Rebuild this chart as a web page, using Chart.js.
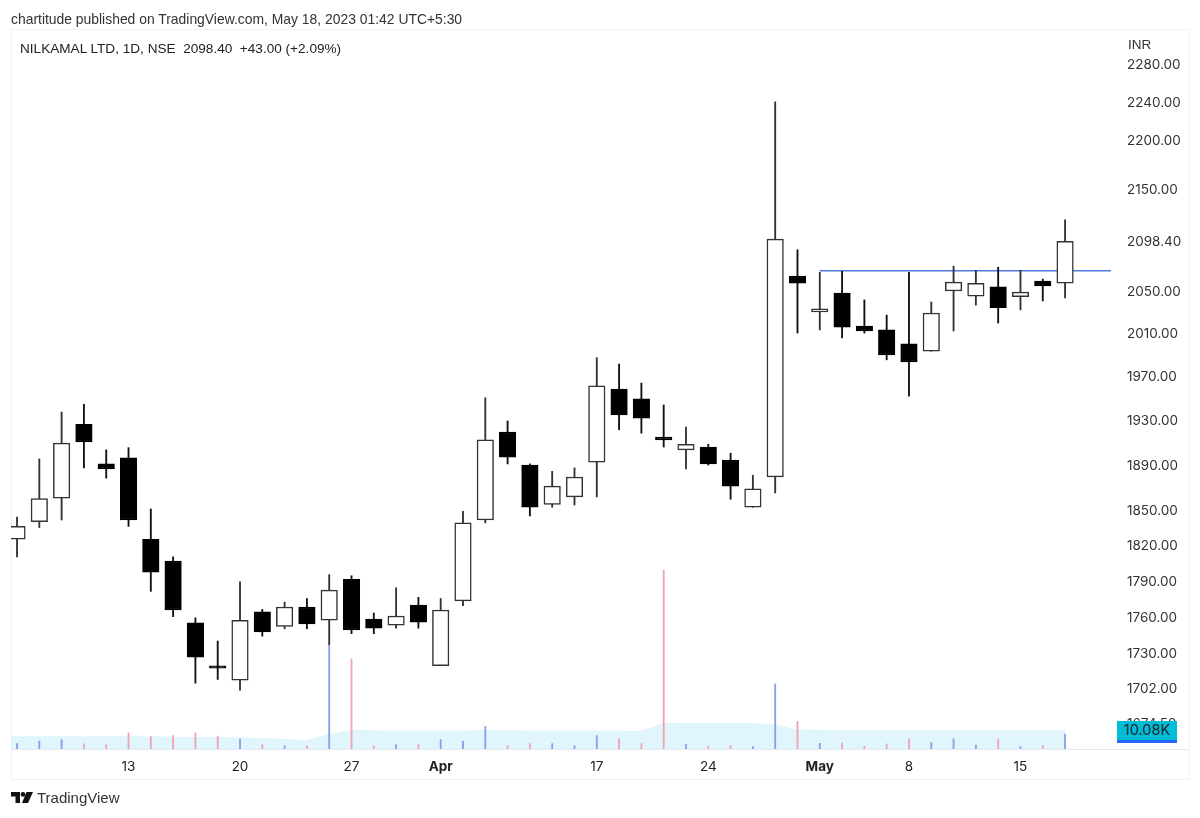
<!DOCTYPE html>
<html>
<head>
<meta charset="utf-8">
<title>NILKAMAL LTD</title>
<script src="https://cdn.jsdelivr.net/npm/chart.js@4"></script>
<style>
    html, body { margin: 0; padding: 0; background: #fff; }
    #wrap { position: relative; width: 1200px; height: 818px; overflow: hidden; font-family: "Liberation Sans", sans-serif; color: #2a2e39; }
    #frame { position: absolute; left: 11px; top: 29px; width: 1177px; height: 749px; border: 1px solid #f0f2f8; box-sizing: content-box; }
    #axisRule { position: absolute; left: 1111px; top: 749px; width: 78px; height: 1px; background: #e6e8f0; }
    canvas { position: absolute; left: 0; top: 0; }
    .txt { position: absolute; white-space: pre; }
    #published { left: 11px; top: 11px; font-size: 13.9px; color: #333; }
    #legend { left: 20px; top: 41px; font-size: 13.6px; color: #222; }
    #inr { left: 1128px; top: 37px; font-size: 13.5px; color: #333; }
    #volTag { left: 1117px; top: 721px; width: 60px; height: 19px; line-height: 20px; background: #00bcd4; border-bottom: 3px solid #2962ff; font: 14.5px Inter, sans-serif; text-align: center; color: #1b2a33; }
    #brand { left: 37px; top: 789px; font-size: 15px; color: #333; }
    #logo { position: absolute; left: 11px; top: 792px; }
</style>
</head>
<body>
<div id="wrap">
    <div id="frame"></div>
    <div id="axisRule"></div>
    <canvas id="chart" width="1200" height="818"></canvas>
    <div class="txt" id="published">chartitude published on TradingView.com, May 18, 2023 01:42 UTC+5:30</div>
    <div class="txt" id="legend">NILKAMAL LTD, 1D, NSE  2098.40  +43.00 (+2.09%)</div>
    <div class="txt" id="inr">INR</div>
    <div class="txt" id="volTag">10.08K</div>
    <svg id="logo" width="22" height="12" viewBox="0 0 22 12">
        <path d="M0 0h9v11H4.5V4.5H0z M15.5 0h6.5l-5 11h-6z" fill="#111"></path>
        <circle cx="12" cy="2.4" r="2.3" fill="#111"></circle>
    </svg>
    <div class="txt" id="brand">TradingView</div>
</div>
<script>
    // Daily candles (index = trading day)
    const opens = [1825, 1840, 1860.5, 1926, 1890.5, 1896, 1825, 1806.5, 1755, 1720, 1708.5, 1764, 1752, 1768, 1757, 1791,
        1758, 1753, 1769.5, 1720, 1773, 1841.5, 1919, 1889.5, 1855, 1861.5, 1892, 1958, 1949, 1914.5, 1903, 1905.5,
        1894, 1852.5, 1879, 2064.5, 2030, 2048, 2016.5, 2013, 2000, 1993, 2050, 2045, 2054, 2044.5, 2059.5, 2057.5];
    const highs = [1844, 1895, 1937, 1944, 1903, 1905, 1851, 1810, 1759, 1740, 1789, 1766, 1772, 1775, 1795, 1794,
        1763, 1784, 1776, 1775, 1849, 1950, 1929, 1890.5, 1884, 1887, 1987, 1981, 1963.5, 1943.5, 1923.5, 1908,
        1900, 1880.5, 2240, 2090, 2068, 2069, 2041.5, 2027, 2068, 2039.5, 2074, 2070, 2073, 2070, 2061.5, 2119.5];
    const lows = [1810, 1835, 1841.5, 1887, 1878, 1836, 1781, 1760, 1706, 1709, 1700.5, 1744, 1750, 1750, 1737, 1746,
        1746, 1750.5, 1750.5, 1720, 1769, 1839, 1890.5, 1845, 1852.5, 1854.5, 1861.5, 1921, 1918, 1905.5, 1886, 1889.5,
        1859.5, 1852.5, 1865, 2010, 2013, 2005.5, 2010, 1985, 1951.5, 1993, 2012, 2036.5, 2019.5, 2032, 2040.5, 2043.5];
    const closes = [1836, 1860, 1909, 1910, 1886, 1841.5, 1797, 1765.5, 1727, 1718, 1757, 1747.5, 1768, 1754, 1782, 1749,
        1750.5, 1760.5, 1755.5, 1765.5, 1839, 1912, 1896.5, 1852.5, 1871, 1879, 1961, 1934.5, 1931.5, 1912, 1908, 1890.5,
        1871, 1868.5, 2100.5, 2057.5, 2033, 2015.5, 2012, 1989.5, 1983, 2029, 2058.5, 2057.5, 2034, 2049, 2055, 2098.4];

    // Volume in thousands and its moving average
    const volumes = [3.6, 5.4, 6.3, 3.4, 2.9, 10.8, 8.3, 9, 10.8, 8.7, 6.7, 2.9, 2.2, 2, 70, 60.5,
        2, 2.9, 3.1, 6.3, 5.4, 15.2, 2.2, 3.6, 3.6, 2.2, 9, 6.7, 3.6, 120.3, 3.1, 1.6,
        2.2, 1.6, 43.7, 18.6, 3.8, 4, 1.8, 3.4, 6.7, 4.3, 6.9, 2.7, 6.7, 1.6, 2.2, 10.08];
    const volumeMa = [8.5, 8.5, 8.6, 8.6, 8.6, 8.8, 8.5, 8.3, 8, 8, 7.8, 7.4, 6.9, 6.3, 10, 12.8,
        12.6, 12.4, 12.4, 12.4, 12.5, 12.8, 12.6, 12.5, 12.4, 12.4, 12.4, 12.4, 12.4, 17.5, 17.5, 17.5,
        17.5, 17.5, 16.3, 13.4, 12.8, 12.8, 12.8, 12.8, 12.8, 12.8, 12.8, 12.8, 12.8, 12.8, 12.8, 12.8];
    const volumeMaBefore = 8.5; // day before the first visible candle

    // Horizontal resistance line drawn on the chart
    const lineDays = [36, 49.1];
    const linePrices = [2069.5, 2069.5];

    // Axis ticks
    const priceTicks = [2280, 2240, 2200, 2150, 2098.4, 2050, 2010, 1970, 1930, 1890, 1850, 1820, 1790, 1760, 1730, 1702, 1674.5];
    const dayTicks = [5, 10, 15, 19, 26, 31, 36, 40, 45];
    const dayLabels = ["13", "20", "27", "Apr", "17", "24", "May", "8", "15"];
    const boldLabels = ["Apr", "May"];

    const upColor = "#fff";
    const downColor = "#000";
    const edgeColor = "#333";
    const volUpColor = "#86a2e8";
    const volDownColor = "#f0a3b2";

    const wickData = highs.map((h, i) => ({ x: i, y: [lows[i], h] }));
    const bodyData = opens.map((o, i) => ({ x: i, y: [Math.min(o, closes[i]), Math.max(o, closes[i])] }));
    const isUp = opens.map((o, i) => closes[i] >= o);

    new Chart(document.getElementById("chart").getContext("2d"), {
        data: {
            datasets: [
                {
                    type: "line",
                    data: [{ x: -1, y: volumeMaBefore }].concat(volumeMa.map((v, i) => ({ x: i, y: v }))),
                    yAxisID: "yVol",
                    borderWidth: 0,
                    pointRadius: 0,
                    tension: 0.2,
                    fill: "origin",
                    backgroundColor: "#e1f6fc",
                    order: 6
                },
                {
                    type: "bar",
                    data: volumes.map((v, i) => ({ x: i, y: v })),
                    yAxisID: "yVol",
                    grouped: false,
                    barThickness: 1.2,
                    backgroundColor: isUp.map(u => u ? volUpColor : volDownColor),
                    order: 5
                },
                {
                    type: "line",
                    data: lineDays.map((d, i) => ({ x: d, y: linePrices[i] })),
                    yAxisID: "y",
                    borderColor: "#4f7ae0",
                    borderWidth: 1.5,
                    pointRadius: 0,
                    order: 4
                },
                {
                    type: "bar",
                    data: wickData,
                    yAxisID: "y",
                    grouped: false,
                    barThickness: 1.2,
                    backgroundColor: isUp.map(u => u ? edgeColor : "#111"),
                    order: 3
                },
                {
                    type: "bar",
                    data: bodyData,
                    yAxisID: "y",
                    grouped: false,
                    barThickness: 16.5,
                    minBarLength: 2,
                    borderSkipped: false,
                    borderWidth: 1.5,
                    borderColor: isUp.map(u => u ? edgeColor : downColor),
                    backgroundColor: isUp.map(u => u ? upColor : downColor),
                    order: 2
                }
            ]
        },
        options: {
            responsive: false,
            animation: false,
            layout: { padding: { left: 11, top: 29, right: 12, bottom: 39 } },
            plugins: { legend: { display: false }, tooltip: { enabled: false } },
            scales: {
                x: {
                    type: "linear",
                    offset: false,
                    min: -0.27,
                    max: 49.06,
                    grid: { display: false, offset: false },
                    border: { color: "#e6e8f0" },
                    afterBuildTicks: axis => { axis.ticks = dayTicks.map(d => ({ value: d })); },
                    afterFit: axis => { axis.height = 30; },
                    ticks: {
                        autoSkip: false,
                        maxRotation: 0,
                        padding: 2,
                        color: "#222",
                        font: ctx => ({
                            family: "Inter",
                            size: 13.5,
                            weight: boldLabels.includes(dayLabels[ctx.index]) ? "bold" : "normal"
                        }),
                        callback: (value, index) => dayLabels[index]
                    }
                },
                y: {
                    type: "logarithmic",
                    position: "right",
                    min: 1654.2,
                    max: 2317.7,
                    grid: { display: false },
                    border: { display: false },
                    afterBuildTicks: axis => { axis.ticks = priceTicks.map(p => ({ value: p })); },
                    afterFit: axis => { axis.width = 77; },
                    ticks: {
                        autoSkip: false,
                        padding: 8,
                        labelOffset: 1,
                        color: "#333",
                        font: { family: "Inter", size: 13.5 },
                        callback: value => Number(value).toFixed(2)
                    }
                },
                yVol: {
                    type: "linear",
                    display: false,
                    min: 0,
                    max: 484
                }
            }
        }
    });
</script>
</body>
</html>
